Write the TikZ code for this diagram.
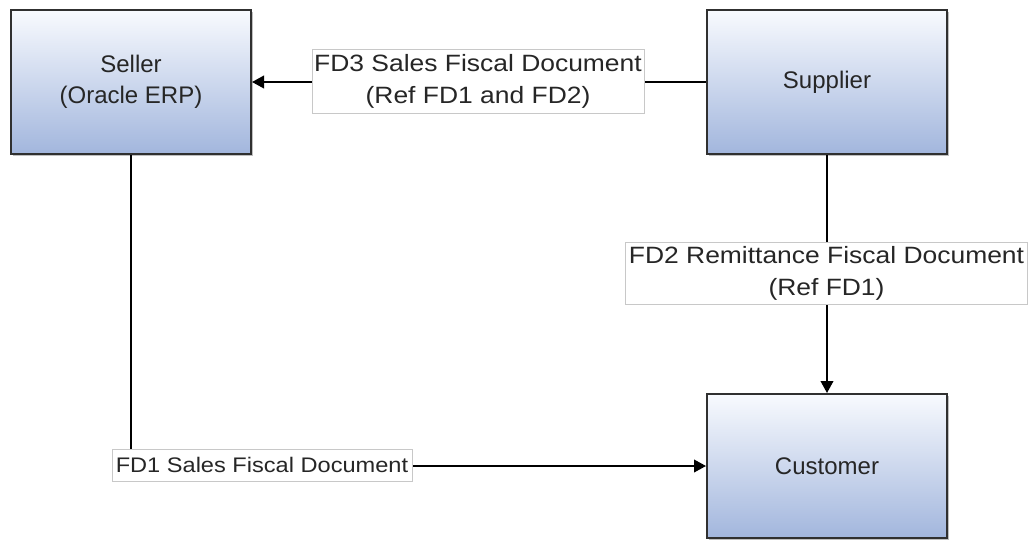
\documentclass[tikz,border=0pt]{standalone}
\usepackage{fontspec}
\setmainfont{Liberation Sans}
\newfontfamily\lblfont[FakeStretch=1.12]{Liberation Sans}
\usetikzlibrary{arrows.meta,shadows}
\definecolor{boxtop}{HTML}{F8FAFE}
\definecolor{boxbot}{HTML}{A2B6DD}
\definecolor{boxline}{HTML}{303030}
\definecolor{txt}{HTML}{262626}
\definecolor{lblline}{HTML}{C8C8C8}
\begin{document}
\begin{tikzpicture}[x=0.75pt,y=-0.75pt,
  entity/.style={rectangle, draw=boxline, line width=1.5pt, top color=boxtop, bottom color=boxbot,
    minimum width=180pt, minimum height=108pt, inner sep=0pt, align=center, text=txt,
    font=\fontsize{18}{23}\selectfont,
    drop shadow={shadow xshift=1.2pt, shadow yshift=-1.2pt, opacity=0.25, fill=black}},
  lbl/.style={rectangle, draw=lblline, line width=0.6pt, fill=white, inner sep=0pt, align=center, text=txt},
  conn/.style={draw=black, line width=1.3pt, -{Triangle[length=9pt,width=9.5pt]}}
]
\useasboundingbox (0,0) rectangle (1028,540);
\node[entity] (seller) at (131,82) {Seller\\(Oracle ERP)};
\node[entity] (supplier) at (827,82) {Supplier};
\node[entity] (customer) at (827,466) {Customer};

\draw[conn] (supplier.west) -- (seller.east);
\draw[conn] (supplier.south) -- (customer.north);
\draw[conn] (seller.south) |- (customer.west);

\node[lbl, minimum width=249pt, minimum height=48pt, font=\lblfont\fontsize{17.7}{24}\selectfont] (l3) at (478,81)
  {FD3 Sales Fiscal Document\\(Ref FD1 and FD2)};
\node[lbl, minimum width=301pt, minimum height=47pt, font=\lblfont\fontsize{17.7}{24}\selectfont] (l2) at (826.5,273.5)
  {FD2 Remittance Fiscal Document\\(Ref FD1)};
\node[lbl, minimum width=225pt, minimum height=24pt, font=\lblfont\fontsize{15.8}{20}\selectfont] (l1) at (262,465)
  {FD1 Sales Fiscal Document};
\end{tikzpicture}
\end{document}
